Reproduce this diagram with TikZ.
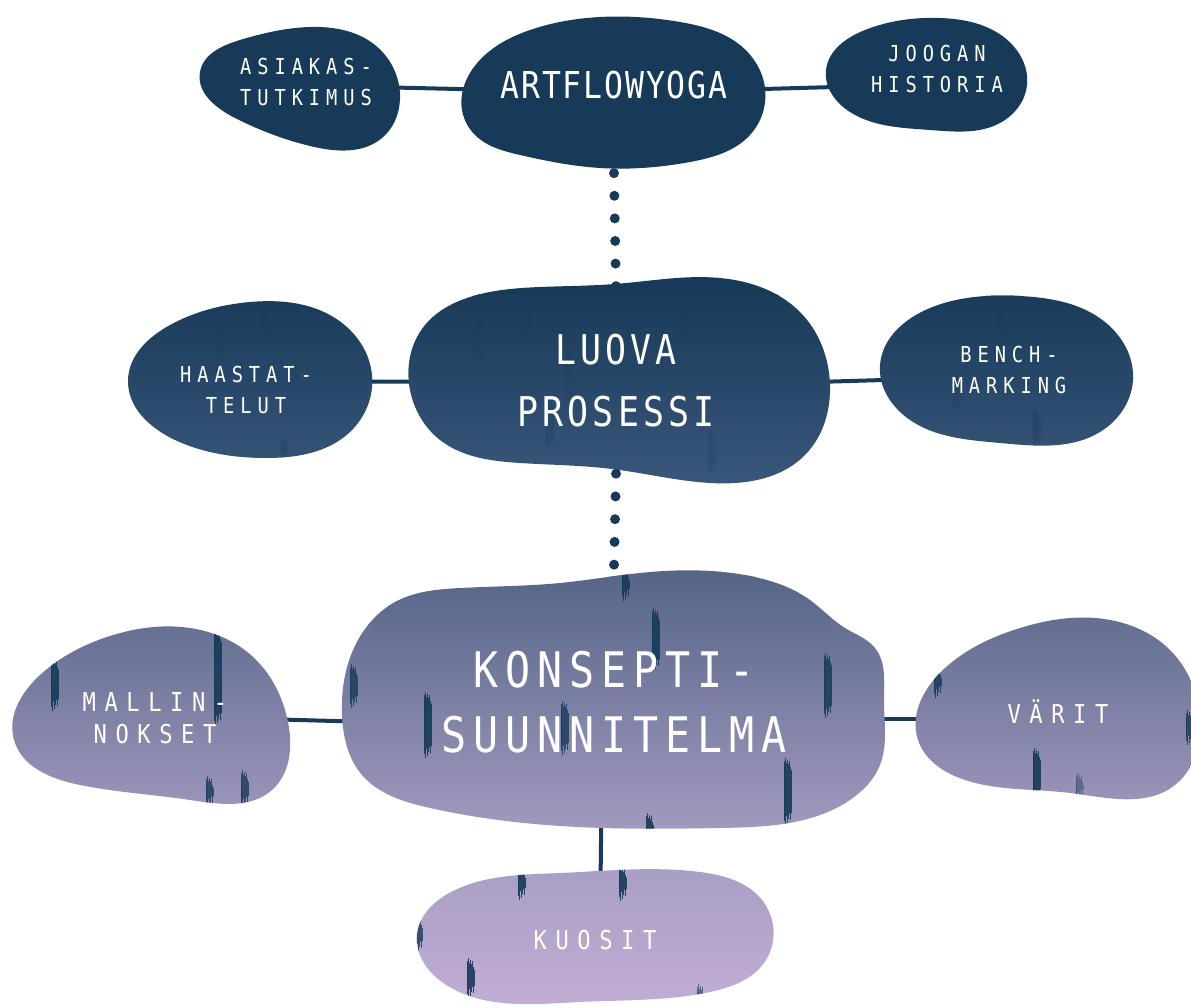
\documentclass[tikz,border=0pt]{standalone}
\usepackage{fontspec}
\newfontfamily\lbl{DejaVu Sans Mono}[FakeStretch=0.85]
\usetikzlibrary{backgrounds,hobby}
\definecolor{navy}{HTML}{173A58}
\definecolor{g0}{HTML}{163A58}
\definecolor{g1}{HTML}{1A3B5A}
\definecolor{g2}{HTML}{39577A}
\definecolor{g3}{HTML}{566687}
\definecolor{g4}{HTML}{A29ABF}
\definecolor{g5}{HTML}{C3AED5}
\newcommand\gradfill{%
  \fill[g0] (-5,-5) rectangle (1200,296);
  \shade[top color=g1, bottom color=g2] (-5,295) rectangle (1200,486);
  \shade[top color=g2, bottom color=g3] (-5,485) rectangle (1200,576);
  \shade[top color=g3, bottom color=g4] (-5,575) rectangle (1200,831);
  \shade[top color=g4, bottom color=g5] (-5,830) rectangle (1200,1013);
}
\newcommand\brush[4]{% x, ytop, ybottom, opacity
  \foreach \dx/\dt/\db in {0/6/-5, 0.9/1/-1, 1.8/-2/3, 2.7/3/-6, 3.6/0/1, 4.5/4/-3, 5.4/1/-8, 6.3/7/-2, 7.2/10/-9}
    \draw[navy, line width=1pt, opacity=#4] (#1+\dx,#2+\dt) -- (#1+\dx,#3+\db);
}
\tikzset{
  txt/.style={text=white, inner sep=0pt, align=center},
  smalllbl/.style={txt, font={\lbl\fontsize{22}{31}\selectfont\addfontfeature{LetterSpace=27}}},
  lowlbl/.style={txt, font={\lbl\fontsize{26}{32}\selectfont\addfontfeature{LetterSpace=33}}},
  artlbl/.style={txt, font={\lbl\fontsize{37}{40}\selectfont\addfontfeature{LetterSpace=5}}},
  luolbl/.style={txt, font={\lbl\fontsize{41}{62}\selectfont\addfontfeature{LetterSpace=10}}},
  konlbl/.style={txt, font={\lbl\fontsize{49}{65}\selectfont\addfontfeature{LetterSpace=14}}},
  conn/.style={draw=navy, line width=4pt},
  dots/.style={draw=navy, line width=10pt, line cap=round},
  blob/.style={closed hobby}
}
\begin{document}
\begin{tikzpicture}[x=1pt, y=-1pt]
\useasboundingbox (0,0) rectangle (1191,1008);
% labels
\node[artlbl]   (art) at (614,85)  {ARTFLOWYOGA};
\node[smalllbl] (asi) at (306,82)  {ASIAKAS-\\TUTKIMUS};
\node[smalllbl] (joo) at (937,69)  {JOOGAN\\HISTORIA};
\node[luolbl]   (luo) at (616,381) {LUOVA\\PROSESSI};
\node[smalllbl] (haa) at (246,390) {HAASTAT-\\TELUT};
\node[smalllbl] (ben) at (1009,370) {BENCH-\\MARKING};
\node[konlbl]   (kon) at (614,702) {KONSEPTI-\\SUUNNITELMA};
\node[lowlbl]   (mal) at (155,718) {MALLIN-\\NOKSET};
\node[lowlbl]   (var) at (1058,712) {VÄRIT};
\node[lowlbl]   (kuo) at (595,940) {KUOSIT};
\begin{scope}[on background layer]
% connectors
\draw[conn] ([yshift=-5pt]asi.east) -- ([yshift=-5pt]art.west);
\draw[conn] ([yshift=-5pt]art.east) -- ([yshift=-17pt]joo.west);
\draw[conn] ([yshift=8pt]haa.east) -- (luo.west);
\draw[conn] ([yshift=-4pt]luo.east) -- ([yshift=-8pt]ben.west);
\draw[conn] (mal.east) -- ([yshift=-22pt]kon.west);
\draw[conn] ([yshift=-17pt]kon.east) -- ([yshift=-7pt]var.west);
\draw[conn] ([xshift=-12pt]kon.south) -- ([xshift=5pt]kuo.north);
% blobs
\begin{scope}
\clip plot[blob] coordinates {(462,110) (478,62) (530,30) (600,17) (680,22) (740,45) (765,88) (750,135) (690,162) (600,168) (520,155) (475,135)};
\gradfill
\end{scope}
\begin{scope}
\clip plot[blob] coordinates {(200,72) (240,40) (310,27) (375,45) (400,95) (382,138) (310,146) (235,118)};
\gradfill
\end{scope}
\begin{scope}
\clip plot[blob] coordinates {(826,70) (865,30) (940,18) (1005,38) (1027,85) (1000,123) (930,130) (855,115)};
\gradfill
\end{scope}
\begin{scope}
\clip plot[blob] coordinates {(410,390) (425,325) (470,297) (540,287) (615,284) (720,278) (800,312) (830,385) (805,455) (710,483) (612,469) (520,463) (440,440)};
\gradfill
\brush{475}{318}{362}{0.22}
\brush{522}{305}{350}{0.18}
\brush{546}{398}{448}{0.25}
\brush{566}{352}{400}{0.2}
\brush{708}{430}{472}{0.18}
\brush{680}{300}{340}{0.15}
\end{scope}
\begin{scope}
\clip plot[blob] coordinates {(128,380) (170,325) (250,302) (335,318) (372,375) (350,432) (265,458) (175,440)};
\gradfill
\brush{218}{318}{355}{0.18}
\brush{262}{308}{345}{0.18}
\brush{281}{438}{460}{0.3}
\end{scope}
\begin{scope}
\clip plot[blob] coordinates {(880,365) (930,308) (1020,296) (1105,322) (1133,380) (1100,432) (1000,443) (910,420)};
\gradfill
\brush{998}{308}{350}{0.18}
\brush{953}{370}{410}{0.2}
\brush{1033}{410}{445}{0.3}
\end{scope}
\begin{scope}
\clip plot[blob] coordinates {(342,715) (358,640) (395,602) (460,588) (560,583) (640,573) (750,576) (810,600) (845,628) (875,648) (884,700) (880,765) (850,800) (720,828) (560,826) (430,808) (362,775)};
\gradfill
\brush{622}{570}{598}{0.9}
\brush{652}{610}{668}{0.9}
\brush{350}{666}{705}{0.8}
\brush{424}{694}{755}{0.9}
\brush{561}{703}{752}{0.8}
\brush{824}{655}{715}{0.85}
\brush{784}{760}{822}{0.9}
\brush{366}{790}{810}{0.7}
\brush{646}{815}{840}{0.9}
\end{scope}
\begin{scope}
\clip plot[blob] coordinates {(14,740) (40,675) (110,636) (190,628) (252,656) (288,722) (272,790) (190,800) (80,785)};
\gradfill
\brush{51}{660}{708}{0.9}
\brush{214}{632}{722}{0.9}
\brush{206}{778}{805}{0.8}
\brush{241}{772}{805}{0.8}
\end{scope}
\begin{scope}
\clip plot[blob] coordinates {(918,740) (945,668) (1020,628) (1095,618) (1170,650) (1200,720) (1175,785) (1070,793) (965,780)};
\gradfill
\brush{934}{668}{695}{0.85}
\brush{1033}{750}{798}{0.9}
\brush{1076}{775}{798}{0.45}
\brush{1186}{712}{742}{0.8}
\end{scope}
\begin{scope}
\clip plot[blob] coordinates {(417,935) (455,890) (560,873) (700,872) (762,900) (766,960) (710,992) (580,1002) (455,990)};
\gradfill
\brush{518}{868}{897}{0.9}
\brush{619}{868}{898}{0.9}
\brush{415}{918}{950}{0.8}
\brush{467}{960}{995}{0.9}
\brush{697}{986}{1005}{0.6}
\end{scope}
% dotted links, above the blob edges
\draw[dots, dash pattern=on 0pt off 22.6pt] ([yshift=-74pt]art.south) -- ([yshift=45pt]luo.north);
\draw[dots, dash pattern=on 0pt off 22.74pt] ([yshift=-46pt]luo.south) -- ([yshift=83pt]kon.north);
\end{scope}
\end{tikzpicture}
\end{document}
